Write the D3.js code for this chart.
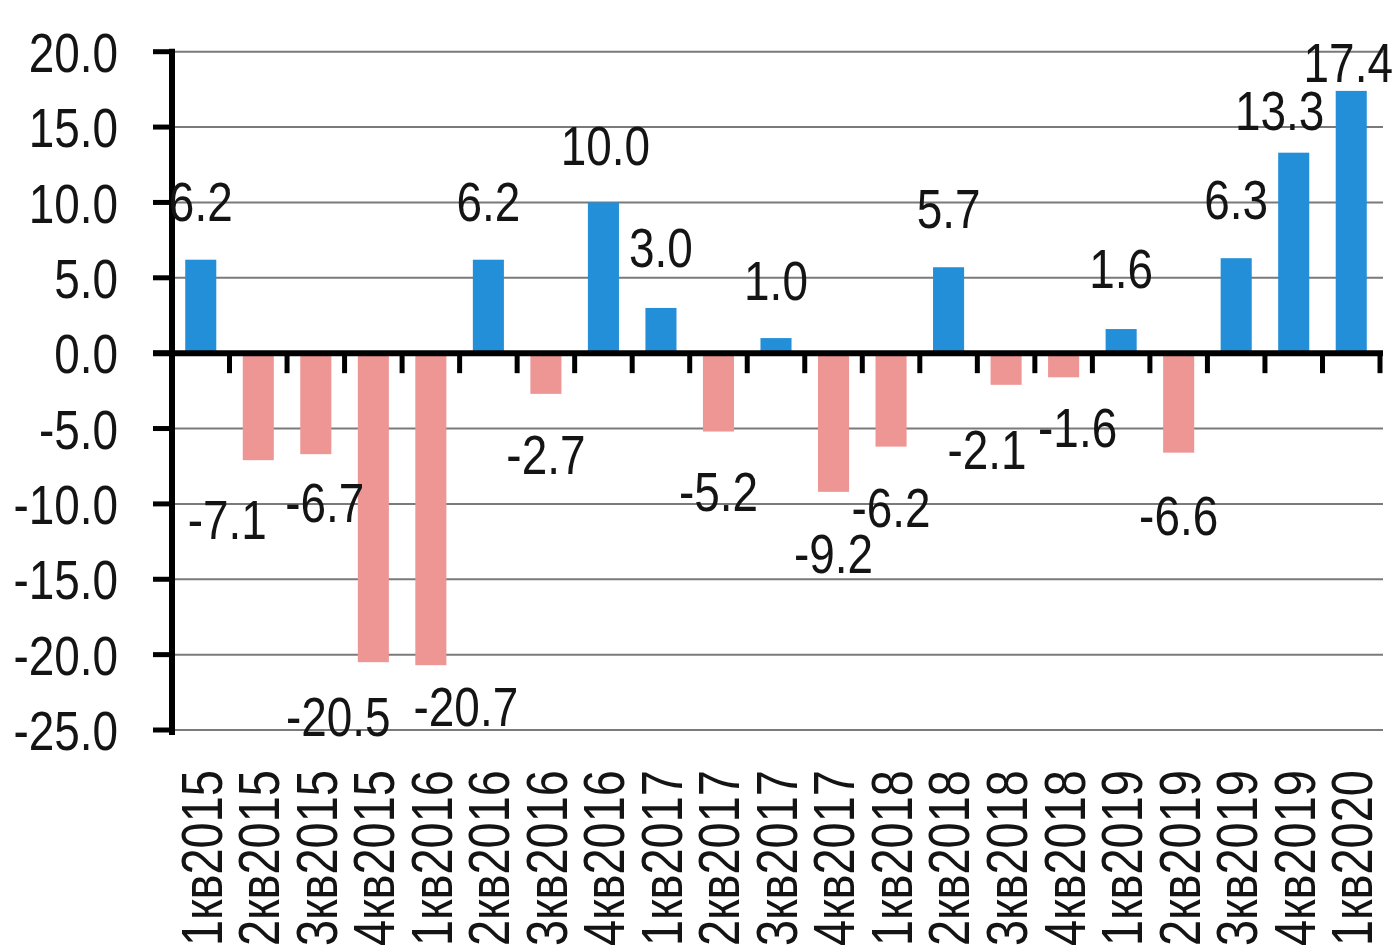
<!DOCTYPE html>
<html>
<head>
<meta charset="utf-8">
<script src="https://cdn.jsdelivr.net/npm/d3@7"></script>
<style>
  body { margin: 0; background: #fff; }
  text { font-family: "Liberation Sans", Arial, sans-serif; fill: #141414; }
</style>
</head>
<body>
<div id="chart"></div>
<script>
// quarterly values
var quarters = ["1кв2015","2кв2015","3кв2015","4кв2015","1кв2016","2кв2016","3кв2016","4кв2016",
  "1кв2017","2кв2017","3кв2017","4кв2017","1кв2018","2кв2018","3кв2018","4кв2018",
  "1кв2019","2кв2019","3кв2019","4кв2019","1кв2020"];
var values = [6.2, -7.1, -6.7, -20.5, -20.7, 6.2, -2.7, 10.0, 3.0, -5.2, 1.0, -9.2,
  -6.2, 5.7, -2.1, -1.6, 1.6, -6.6, 6.3, 13.3, 17.4];
var yTicks = [20, 15, 10, 5, 0, -5, -10, -15, -20, -25];
// hand-placed label nudges (px) as in the original
var labelNudge = [[0,0],[-31,-1],[9,-12],[-35,-6],[35,-19],[0,0],[0,0],[2,2],[0,-2],[0,-1],[0,1],
  [0,1],[0,0],[0,0],[-19,4],[14,-10],[0,-2],[0,2],[0,0],[-14,16],[-3,30]];

var width = 1397, height = 948;
var left = 172, right = 1380;
var sx = 0.82; // narrow-looking font
var fmt = function(d){ return d3.format(".1f")(d).replace("\u2212", "-"); };

var svg = d3.select("#chart").append("svg").attr("width", width).attr("height", height);
svg.append("rect").attr("width", width).attr("height", height).attr("fill", "#fff");

var x = d3.scaleBand().domain(quarters).range([left, right]).paddingInner(0.46).paddingOuter(0.23);
var y = d3.scaleLinear().domain([-25, 20]).range([730, 51.7]);

// gridlines
svg.append("g").selectAll("line").data(yTicks).enter().append("line")
  .attr("x1", left).attr("x2", 1383)
  .attr("y1", function(d){ return y(d); }).attr("y2", function(d){ return y(d); })
  .attr("stroke", "#7a7a7a").attr("stroke-width", 2);

// bars
svg.append("g").selectAll("rect").data(values).enter().append("rect")
  .attr("x", function(d, i){ return x(quarters[i]); })
  .attr("width", x.bandwidth())
  .attr("y", function(d){ return d >= 0 ? y(d) : y(0); })
  .attr("height", function(d){ return Math.abs(y(d) - y(0)); })
  .attr("fill", function(d){ return d >= 0 ? "#228fd8" : "#ee9694"; });

// y axis
svg.append("line").attr("x1", left).attr("x2", left).attr("y1", y(20) - 3).attr("y2", y(-25) + 5)
  .attr("stroke", "#000").attr("stroke-width", 6);
svg.append("g").selectAll("line").data(yTicks).enter().append("line")
  .attr("x1", 153).attr("x2", left)
  .attr("y1", function(d){ return y(d); }).attr("y2", function(d){ return y(d); })
  .attr("stroke", "#000").attr("stroke-width", 5);
svg.append("g").selectAll("text").data(yTicks).enter().append("text")
  .attr("transform", function(d){ return "translate(118," + y(d) + ") scale(" + sx + ",1)"; })
  .attr("text-anchor", "end").attr("dy", "0.36em")
  .style("font-size", "56px")
  .text(fmt);

// zero line with downward ticks between categories
svg.append("line").attr("x1", 153).attr("x2", 1383).attr("y1", y(0)).attr("y2", y(0))
  .attr("stroke", "#000").attr("stroke-width", 6);
svg.append("g").selectAll("line").data(d3.range(1, quarters.length + 1)).enter().append("line")
  .attr("x1", function(i){ return left + x.step() * i; })
  .attr("x2", function(i){ return left + x.step() * i; })
  .attr("y1", y(0)).attr("y2", y(0) + 20)
  .attr("stroke", "#000").attr("stroke-width", 5);

// value labels
svg.append("g").selectAll("text").data(values).enter().append("text")
  .attr("transform", function(d, i){
    var cx = x(quarters[i]) + x.bandwidth() / 2 + labelNudge[i][0];
    var by = (d >= 0 ? y(d) - 39 : y(d) + 80) + labelNudge[i][1];
    return "translate(" + cx + "," + by + ") scale(" + sx + ",1)";
  })
  .attr("text-anchor", "middle")
  .style("font-size", "56px")
  .text(fmt);

// category labels
svg.append("g").selectAll("text").data(quarters).enter().append("text")
  .attr("transform", function(d){
    return "translate(" + (x(d) + x.bandwidth() / 2) + ",770) rotate(-90) scale(0.81,1)";
  })
  .attr("text-anchor", "end").attr("dy", "0.36em")
  .style("font-size", "58px")
  .text(function(d){ return d; });
</script>
</body>
</html>
